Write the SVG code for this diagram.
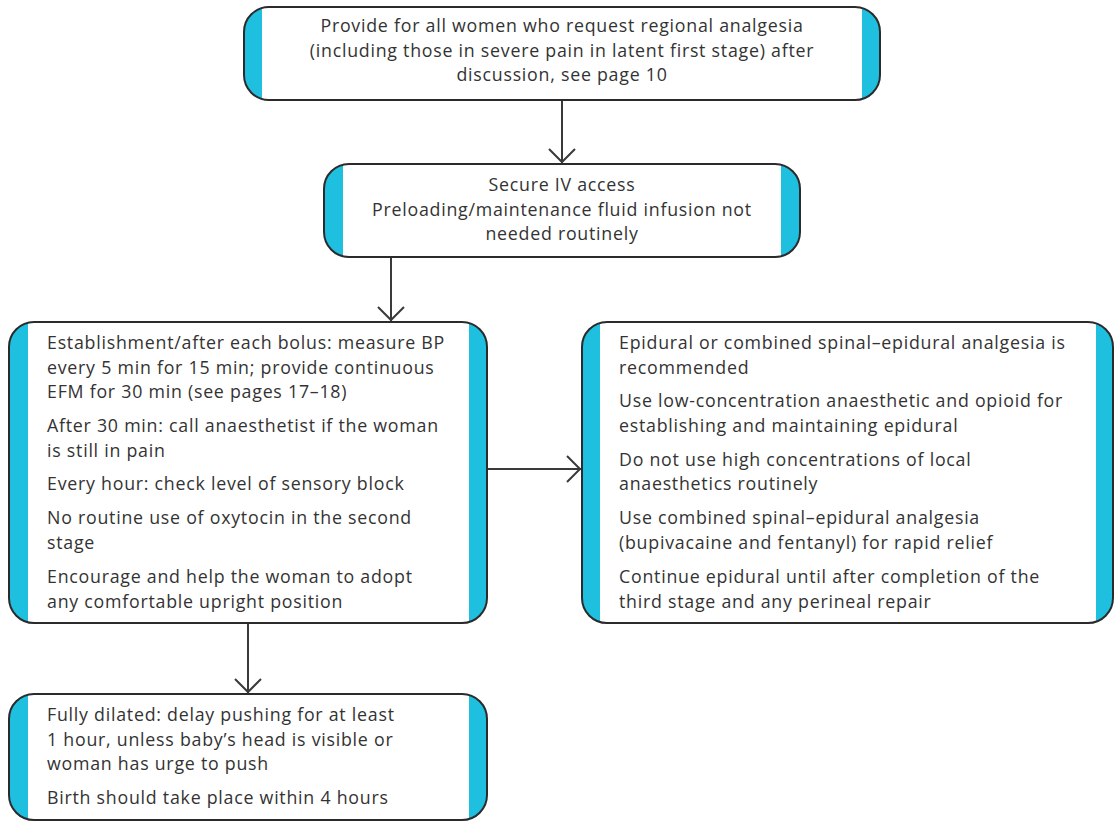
<svg xmlns="http://www.w3.org/2000/svg" width="1119" height="823" viewBox="0 0 1119 823">
<defs>
<style>
.bg{fill:#1fbfe0}
.in{fill:#ffffff}
.ol{fill:none;stroke:#2b2b2b;stroke-width:2}
.t{font-family:"Open Sans","Noto Sans",sans-serif;font-size:17.8px;letter-spacing:0.75px;fill:#333333}
.c{text-anchor:middle}
.ln{stroke:#3a3a3a;stroke-width:2;fill:none}
</style>
<marker id="ah" viewBox="0 0 20 30" refX="15" refY="15" markerWidth="20" markerHeight="30" markerUnits="userSpaceOnUse" orient="auto">
<path d="M1,2 L14,15 L1,28" fill="none" stroke="#3a3a3a" stroke-width="2"/>
</marker>
</defs>
<rect width="1119" height="823" fill="#ffffff"/>
<g id="connectors">
<line class="ln" x1="562" y1="100" x2="562" y2="163" marker-end="url(#ah)"/>
<line class="ln" x1="391" y1="257" x2="391" y2="321" marker-end="url(#ah)"/>
<line class="ln" x1="487" y1="469" x2="581" y2="469" marker-end="url(#ah)"/>
<line class="ln" x1="248" y1="623" x2="248" y2="693" marker-end="url(#ah)"/>
</g>
<g id="node1">
<rect class="bg" x="244" y="7" width="636" height="93" rx="25"/>
<rect class="in" x="262" y="8" width="600" height="91"/>
<rect class="ol" x="244" y="7" width="636" height="93" rx="25"/>
<text class="t c"><tspan x="562" y="32">Provide for all women who request regional analgesia</tspan><tspan x="562" y="56.5">(including those in severe pain in latent first stage) after</tspan><tspan x="562" y="81">discussion, see page 10</tspan></text>
</g>
<g id="node2">
<rect class="bg" x="324" y="164" width="476" height="93" rx="25"/>
<rect class="in" x="343" y="165" width="438" height="91"/>
<rect class="ol" x="324" y="164" width="476" height="93" rx="25"/>
<text class="t c"><tspan x="562" y="191">Secure IV access</tspan><tspan x="562" y="215.5">Preloading/maintenance fluid infusion not</tspan><tspan x="562" y="240">needed routinely</tspan></text>
</g>
<g id="node3">
<rect class="bg" x="9" y="322" width="478" height="301" rx="25"/>
<rect class="in" x="28" y="323" width="441" height="299"/>
<rect class="ol" x="9" y="322" width="478" height="301" rx="25"/>
<text class="t"><tspan x="47" y="349">Establishment/after each bolus: measure BP</tspan><tspan x="47" y="373.5">every 5 min for 15 min; provide continuous</tspan><tspan x="47" y="398">EFM for 30 min (see pages 17–18)</tspan></text>
<text class="t"><tspan x="47" y="432">After 30 min: call anaesthetist if the woman</tspan><tspan x="47" y="456.5">is still in pain</tspan></text>
<text class="t" x="47" y="490">Every hour: check level of sensory block</text>
<text class="t"><tspan x="47" y="524">No routine use of oxytocin in the second</tspan><tspan x="47" y="548.5">stage</tspan></text>
<text class="t"><tspan x="47" y="583">Encourage and help the woman to adopt</tspan><tspan x="47" y="607.5">any comfortable upright position</tspan></text>
</g>
<g id="node4">
<rect class="bg" x="582" y="322" width="531" height="301" rx="25"/>
<rect class="in" x="600" y="323" width="496" height="299"/>
<rect class="ol" x="582" y="322" width="531" height="301" rx="25"/>
<text class="t"><tspan x="619" y="349">Epidural or combined spinal–epidural analgesia is</tspan><tspan x="619" y="373.5">recommended</tspan></text>
<text class="t"><tspan x="619" y="407">Use low-concentration anaesthetic and opioid for</tspan><tspan x="619" y="431.5">establishing and maintaining epidural</tspan></text>
<text class="t"><tspan x="619" y="465.5">Do not use high concentrations of local</tspan><tspan x="619" y="490">anaesthetics routinely</tspan></text>
<text class="t"><tspan x="619" y="524">Use combined spinal–epidural analgesia</tspan><tspan x="619" y="548.5">(bupivacaine and fentanyl) for rapid relief</tspan></text>
<text class="t"><tspan x="619" y="583">Continue epidural until after completion of the</tspan><tspan x="619" y="607.5">third stage and any perineal repair</tspan></text>
</g>
<g id="node5">
<rect class="bg" x="9" y="694" width="478" height="126" rx="25"/>
<rect class="in" x="28" y="695" width="441" height="124"/>
<rect class="ol" x="9" y="694" width="478" height="126" rx="25"/>
<text class="t"><tspan x="47" y="721">Fully dilated: delay pushing for at least</tspan><tspan x="47" y="745.5">1 hour, unless baby’s head is visible or</tspan><tspan x="47" y="770">woman has urge to push</tspan></text>
<text class="t" x="47" y="804">Birth should take place within 4 hours</text>
</g>
</svg>
